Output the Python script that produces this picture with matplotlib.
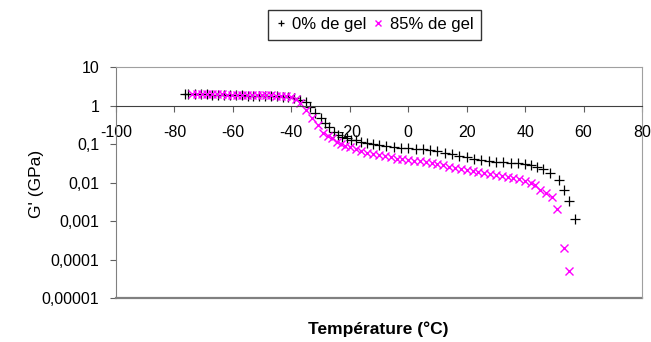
import matplotlib.pyplot as plt

plt.rcParams['font.family'] = ['Liberation Sans', 'DejaVu Sans']
plt.rcParams['axes.unicode_minus'] = False

# 0% de gel
t_0 = [-76.5, -75.5, -73, -71, -69, -67, -65, -63, -61, -59, -57, -55, -53, -51,
       -49, -47, -45, -43, -41, -39, -37, -35, -33.5, -32, -30, -28.5, -27, -25.5,
       -24, -22.5, -21, -19.5, -18, -16, -14, -12, -10, -7.5, -5, -2.5, 0, 2.5, 5,
       7.5, 10, 12.5, 15, 17.5, 20, 22.5, 25, 27.5, 30, 32.5, 35, 37.5, 40, 42, 44,
       46, 48.6, 51.5, 53.2, 54.9, 57.2]
g_0 = [2.0, 2.0, 1.95, 1.95, 1.95, 1.9, 1.9, 1.85, 1.85, 1.85, 1.85, 1.8, 1.8, 1.8,
       1.75, 1.75, 1.75, 1.7, 1.65, 1.55, 1.4, 1.2, 0.9, 0.65, 0.48, 0.36, 0.27, 0.21,
       0.17, 0.15, 0.14, 0.13, 0.125, 0.115, 0.107, 0.1, 0.093, 0.088, 0.084, 0.081,
       0.078, 0.075, 0.072, 0.069, 0.064, 0.059, 0.055, 0.05, 0.045, 0.04, 0.038,
       0.036, 0.035, 0.034, 0.033, 0.032, 0.031, 0.029, 0.026, 0.023, 0.018, 0.0115,
       0.0065, 0.0034, 0.0011]

# 85% de gel
t_85 = [-74, -72.3, -70.6, -68.9, -67.2, -65.5, -63.8, -62.1, -60.4, -58.7, -57,
        -55.3, -53.6, -51.9, -50.2, -48.5, -46.8, -45.1, -43.4, -41.7, -40, -38.5,
        -37, -35, -33, -31, -29, -27.5, -26, -24.5, -23, -21.5, -20, -18, -16, -14,
        -12, -10, -8, -6, -4, -2, 0, 2, 4, 6, 8, 10, 12, 14, 16, 18, 20, 22, 24, 26,
        28, 30, 32, 34, 36, 38, 40, 42, 43.5, 45.2, 47, 49.2, 50.9, 53.2, 55.1]
g_85 = [2.0, 2.0, 2.0, 2.0, 1.95, 1.95, 1.95, 1.9, 1.9, 1.9, 1.9, 1.9, 1.9, 1.85,
        1.85, 1.85, 1.85, 1.8, 1.8, 1.75, 1.7, 1.5, 1.14, 0.77, 0.47, 0.31, 0.19,
        0.16, 0.14, 0.115, 0.1, 0.09, 0.082, 0.075, 0.066, 0.06, 0.055, 0.051, 0.048,
        0.045, 0.042, 0.04, 0.038, 0.037, 0.036, 0.034, 0.032, 0.03, 0.028, 0.026,
        0.024, 0.022, 0.021, 0.02, 0.019, 0.018, 0.017, 0.016, 0.015, 0.014, 0.013,
        0.012, 0.011, 0.0098, 0.0085, 0.0065, 0.0052, 0.0042, 0.002, 0.000195, 0.00005]

x_ticks = [-100, -80, -60, -40, -20, 0, 20, 40, 60, 80]
y_ticks = [1e-5, 1e-4, 1e-3, 1e-2, 1e-1, 1, 10]
y_labels = ['0,00001', '0,0001', '0,001', '0,01', '0,1', '1', '10']

fig = plt.figure(figsize=(6.51, 3.42), dpi=100)
ax = fig.add_axes([116 / 651, 1 - 298 / 342, 526 / 651, 231 / 342])

ax.plot(t_0, g_0, linestyle='none', marker='+', color='black', markersize=6.5,
        markeredgewidth=0.9, label='0% de gel')
ax.plot(t_85, g_85, linestyle='none', marker='x', color='#ff00ff', markersize=5.5,
        markeredgewidth=1.0, label='85% de gel')

ax.set_yscale('log')
ax.set_xlim(-100, 80)
ax.set_ylim(1e-5, 10)
ax.set_xticks(x_ticks)
ax.set_yticks(y_ticks)
ax.set_yticklabels(y_labels)
ax.minorticks_off()
ax.tick_params(axis='both', direction='out', length=4, width=0.8, color='#606060',
               labelsize=11.5)
ax.tick_params(axis='x', pad=10)
ax.tick_params(axis='y', pad=8)

ax.spines['bottom'].set_position(('data', 1))
ax.spines['bottom'].set_color('#404040')
ax.spines['left'].set_color('#808080')
ax.spines['top'].set_color('#a0a0a0')
ax.spines['right'].set_color('#a0a0a0')
ax.axhline(1e-5, color='#808080', linewidth=1.6, clip_on=False)

fig.text(37 / 651, 1 - 184 / 342, "G' (GPa)", ha='center', va='center',
         rotation=90, fontsize=12.5)
fig.text(378 / 651, 1 - 329 / 342, 'Température (°C)', ha='center', va='center',
         fontsize=12.5, fontweight='bold')

fig.legend(loc='center', bbox_to_anchor=(374.5 / 651, 1 - 24.5 / 342), ncol=2,
           frameon=True, fancybox=False, edgecolor='black', fontsize=12,
           handlelength=0.6, handletextpad=0.4, columnspacing=0.4,
           borderpad=0.45, markerscale=0.75)

fig.savefig('out.png', dpi=100)
